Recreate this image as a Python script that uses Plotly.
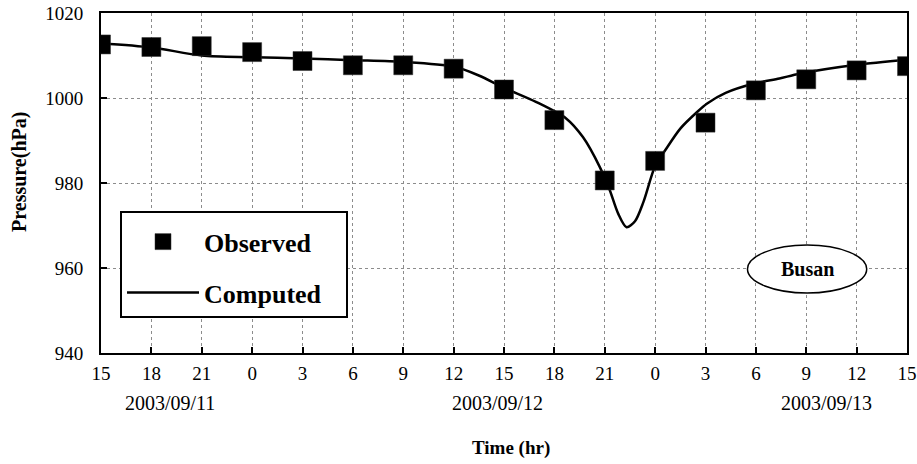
import plotly.graph_objects as go

# Hours elapsed since 2003/09/11 15:00 and the matching clock-hour labels
tick_hours = [0, 3, 6, 9, 12, 15, 18, 21, 24, 27, 30, 33, 36, 39, 42, 45, 48]
tick_labels = ["15", "18", "21", "0", "3", "6", "9", "12", "15",
               "18", "21", "0", "3", "6", "9", "12", "15"]

# Observed sea-level pressure at Busan (hPa), 3-hourly
obs_hours = tick_hours
obs_pressure = [1012.6, 1012.0, 1012.2, 1010.8, 1008.7, 1007.7, 1007.7, 1006.9,
                1002.0, 994.8, 980.6, 985.2, 994.2, 1001.8, 1004.4, 1006.5, 1007.5]

# Model-computed pressure (hPa)
sim_hours = [0, 3, 6, 9, 12, 15, 18, 21, 22.5, 24, 25.9, 27.7, 28.7, 29.7, 30.3,
             30.8, 31.3, 31.8, 32.3, 33.0, 33.6, 34.5, 35.5, 36.1, 37.2, 38.9,
             40.4, 41.6, 45, 48]
sim_pressure = [1012.9, 1011.9, 1010.0, 1009.6, 1009.3, 1008.9, 1008.5, 1007.4,
                1005.3, 1002.4, 999.1, 995.2, 990.8, 983.8, 978.3, 972.8, 969.6,
                971.0, 975.5, 984.0, 987.7, 992.8, 996.7, 998.7, 1001.2, 1003.4,
                1004.6, 1005.7, 1007.8, 1009.0]

# Date labels and where they sit along the time axis
date_labels = ["2003/09/11", "2003/09/12", "2003/09/13"]
date_hours = [4.1, 23.6, 43.2]

SERIF = "Liberation Serif, Times New Roman, serif"
PAD = "\u00a0" * 3  # right-hand breathing room inside the legend box

fig = go.Figure()
fig.add_trace(go.Scatter(
    x=sim_hours, y=sim_pressure, mode="lines", name="Computed" + PAD,
    line=dict(color="black", width=2.5, shape="spline", smoothing=0.8),
    legendrank=2, legendgroup="c",
))
fig.add_trace(go.Scatter(
    x=obs_hours, y=obs_pressure, mode="markers", name="Observed" + PAD,
    marker=dict(symbol="square", size=19, color="black",
                line=dict(color="#333", width=0.5)),
    legendrank=1, legendgroup="o",
))

for lab, h in zip(date_labels, date_hours):
    fig.add_annotation(x=h, y=-0.147, xref="x", yref="paper", text=lab,
                       xanchor="center", yanchor="middle", showarrow=False,
                       font=dict(family=SERIF, size=20, color="black"))

fig.add_annotation(x=0.5087, y=-0.279, xref="paper", yref="paper", text="<b>Time (hr)</b>",
                   xanchor="center", yanchor="middle", showarrow=False,
                   font=dict(family=SERIF, size=19, color="black"))
fig.add_annotation(x=-0.1011, y=0.531, xref="paper", yref="paper", text="<b>Pressure(hPa)</b>",
                   xanchor="center", yanchor="middle", textangle=-90, showarrow=False,
                   font=dict(family=SERIF, size=20, color="black"))

# Station tag
fig.add_shape(type="circle", xref="x", yref="y", x0=38.5, x1=45.6, y0=954.1, y1=965.4,
              line=dict(color="black", width=1.5), fillcolor="white", layer="above")
fig.add_annotation(x=42.05, y=959.8, xref="x", yref="y", text="<b>Busan</b>",
                   xanchor="center", yanchor="middle", showarrow=False,
                   font=dict(family=SERIF, size=20, color="black"))

axis_common = dict(
    showline=True, linecolor="black", linewidth=2, mirror=True,
    ticks="inside", ticklen=6, tickwidth=1.5, tickcolor="black",
    showgrid=True, gridcolor="#8c8c8c", gridwidth=1, griddash="dot",
    zeroline=False, automargin=False,
    tickfont=dict(family=SERIF, size=19, color="black"),
)

fig.update_xaxes(range=[0, 48], tickvals=tick_hours, ticktext=tick_labels,
                 ticklabelstandoff=2, **axis_common)
fig.update_yaxes(range=[940, 1020], tickvals=[940, 960, 980, 1000, 1020],
                 ticklabelstandoff=12, **axis_common)

fig.update_layout(
    width=917, height=464,
    margin=dict(l=101, r=10, t=13, b=111, autoexpand=False),
    paper_bgcolor="white", plot_bgcolor="white",
    font=dict(family=SERIF, color="black"),
    showlegend=True,
    legend=dict(
        x=0.0236, y=0.4176, xanchor="left", yanchor="top",
        bgcolor="white", bordercolor="black", borderwidth=2,
        font=dict(family=SERIF, size=26, color="black", weight="bold"),
        title=dict(text=" ", font=dict(size=4)),
        itemwidth=72, tracegroupgap=14,
    ),
)

fig.write_html("out.html")
